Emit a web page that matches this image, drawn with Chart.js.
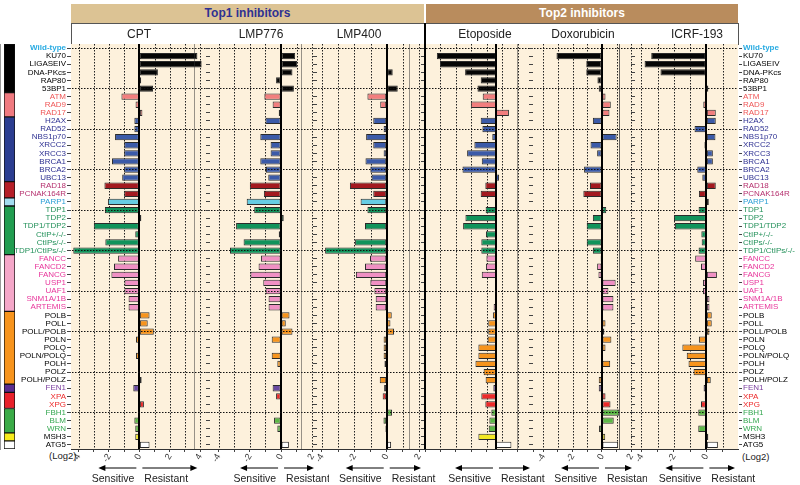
<!doctype html>
<html>

<head>
    <title>Top1 / Top2 inhibitors</title>
    <script src="https://cdn.jsdelivr.net/npm/chart.js@4.4.1/dist/chart.umd.min.js"></script>
    <style>
        * {
            font-family: "Liberation Sans", Arial, Helvetica, sans-serif;
        }

        body {
            margin: 0;
            width: 800px;
            height: 485px;
            position: relative;
            overflow: hidden;
            background: #fff;
        }

        canvas, .hdr, .namebox, .drug, .note, .sep {
            position: absolute;
        }

        .hdr {
            font-size: 12px;
            font-weight: bold;
            text-align: center;
            line-height: 19px;
        }

        .namebox {
            box-sizing: border-box;
            border: 1px solid #555;
            background: #fff;
        }

        .drug {
            top: 27px;
            font-size: 12px;
            color: #222;
            transform: translateX(-50%);
            white-space: nowrap;
        }

        .note {
            font-size: 9.5px;
            color: #222;
        }

        .sep {
            background: #000;
        }
    </style>
</head>

<body>
    <div class="hdr" style="left:71px;top:4px;width:353px;height:19px;background:#dcc394;color:#2e3192">Top1 inhibitors</div>
    <div class="hdr" style="left:426px;top:4px;width:312px;height:19px;background:#b98c5d;color:#fff">Top2 inhibitors</div>
    <div class="namebox" style="left:71px;top:23px;width:354px;height:22px"></div>
    <div class="namebox" style="left:425px;top:23px;width:314px;height:22px"></div>
    <div class="note" style="left:49px;top:450px">(Log2)</div>
    <div class="note" style="left:742px;top:451px">(Log2)</div>

    <script>
        // row labels, top to bottom
        var genes = ['Wild-type', 'KU70', 'LIGASEIV', 'DNA-PKcs', 'RAP80', '53BP1',
            'ATM', 'RAD9', 'RAD17',
            'H2AX', 'RAD52', 'NBS1p70', 'XRCC2', 'XRCC3', 'BRCA1', 'BRCA2', 'UBC13',
            'RAD18', 'PCNAK164R', 'PARP1',
            'TDP1', 'TDP2', 'TDP1/TDP2', 'CtIP+/-/-', 'CtIPs/-/-', 'TDP1/CtIPs/-/-',
            'FANCC', 'FANCD2', 'FANCG', 'USP1', 'UAF1', 'SNM1A/1B', 'ARTEMIS',
            'POLB', 'POLL', 'POLL/POLB', 'POLN', 'POLQ', 'POLN/POLQ', 'POLH', 'POLZ', 'POLH/POLZ',
            'FEN1', 'XPA', 'XPG', 'FBH1', 'BLM', 'WRN', 'MSH3', 'ATG5'];
        // number of rows in each pathway group (side bar)
        var groupSizes = [6, 3, 8, 2, 1, 6, 7, 9, 1, 2, 3, 1, 1];

        var drugs = ['CPT', 'LMP776', 'LMP400', 'Etoposide', 'Doxorubicin', 'ICRF-193'];

        // log2 ratios, one value per gene
        var cpt = [0, 3.82, 4.1, 1.22, 0.12, 0.9, -1.18, -0.25, 0.2, -0.33, -0.33, -1.6, -1.0, -1.0, -1.8, -1.0, -1.13,
            -2.3, -1.0, -2.07, -2.27, 0.13, -3.0, -0.27, -2.24, -4.35, -1.4, -1.67, -1.84, -0.98, -0.98, -0.71, -0.71,
            0.67, 0.55, 0.95, -0.22, 0, -0.22, 0, 0, 0.15, -0.4, 0, 0.3, 0, -0.33, -0.27, -0.27, 0.67];
        var lmp776 = [0, 0.9, 1.03, 0.73, -0.32, 0.82, -1.07, -0.54, -0.15, -1.0, 0, -1.33, -0.67, -0.67, -1.33, -0.97, -0.82,
            -2.0, -1.1, -2.2, -1.72, 0.17, -2.88, -0.15, -2.4, -3.27, -1.29, -1.44, -1.96, -1.14, -0.99, -0.8, -0.8,
            0.54, 0.3, 0.73, -0.6, 0, -0.6, -0.24, 0, 0, -0.54, -0.32, 0, 0, -0.45, -0.24, -0.05, 0.5];
        var lmp400 = [0, 0, 0, 0.37, 0, 0.68, -1.19, -0.4, 0, -0.83, -0.19, -1.27, -0.83, -0.19, -1.31, -1.01, -0.93,
            -2.27, -0.83, -1.61, -1.19, 0, -1.34, 0, -1.95, -3.8, -1.03, -1.34, -1.9, -1.01, -0.76, -0.68, -0.68,
            0.31, 0.23, 0.45, -0.19, -0.19, -0.19, -0.14, 0, -0.43, -0.16, -0.25, 0, 0.33, -0.2, -0.08, 0, 0.27];
        var etoposide = [0, -3.83, -3.63, -2.0, -0.99, -1.2, -0.86, -1.63, 0.84, -0.99, -0.88, -0.24, -1.4, -1.87, -0.92, -2.17, 0.2,
            -0.69, -0.99, 0, -0.67, -1.98, -2.13, -0.65, -0.95, -0.95, -0.62, -0.65, -0.92, 0, 0, 0, -0.15,
            -0.2, -0.5, -0.5, -0.54, -1.14, -1.14, -1.33, -0.8, -0.67, -0.17, -0.95, -0.69, -0.3, -0.43, -0.47, -1.14, 1.0];
        var doxorubicin = [0, -3.1, -1.07, -1.07, -0.31, -0.22, 0.24, 0.6, 0.51, -0.62, 0, 1.0, -0.78, -0.33, 0, -1.22, 0,
            -0.82, -1.27, 0.05, 0.29, -0.62, -1.04, 0, -1.04, -0.62, -0.09, -0.33, -0.24, 0.93, 0.44, 0.78, 0.78,
            0.03, 0.24, 0.16, 0.64, 0.24, 0, 0.56, 0, -0.22, -0.22, 0.24, 0.58, 1.18, 0.8, -0.2, 0.22, 1.1];
        var icrf193 = [0, -3.4, -3.81, -2.83, 0, 0.12, 0, -0.19, 0.58, 0.58, -0.73, 0.56, -0.12, 0.4, 0.4, -0.56, -0.25,
            0.58, -0.46, 0.15, -0.48, -2.0, -1.94, -0.31, -0.29, -0.48, -0.69, -0.33, 0.65, -0.21, -0.21, 0.19, 0.19,
            0.33, 0.33, 0.19, -0.46, -1.48, -1.21, -1.1, -0.79, 0.27, -0.17, -0.1, -0.33, -0.5, 0, -0.5, 0.12, 0.71];
        var series = [cpt, lmp776, lmp400, etoposide, doxorubicin, icrf193];

        // styles
        var sideColors = ['#000000', '#f07a80', '#2b3d90', '#b51f29', '#a3dcf0', '#219d50', '#f5a7c9',
            '#f7941d', '#5a2d8f', '#e8212b', '#3aab47', '#f6eb1b', '#ffffff'];
        var barColors = ['#050505', '#f27e7e', '#3b5aa8', '#a3191f', '#66cde3', '#10935b', '#f090c4',
            '#f7941d', '#6a4aa2', '#ec2a2a', '#5cb846', '#f3e823', '#ffffff'];
        var labelColors = ['#000', '#ef5656', '#2e3192', '#b5306e', '#2a9fd6', '#23915a', '#e8359b',
            '#000', '#7a3d9e', '#ed2a2a', '#36a852', '#000', '#000'];
        var panelBox = [
            {left: 71, right: 210, min: -4.5, max: 4.65, nameX: 139},
            {left: 210, right: 317, min: -4.55, max: 2.3, nameX: 261},
            {left: 317, right: 424, min: -4.3, max: 2.3, nameX: 359},
            {left: 425, right: 533, min: -4.6, max: 2.4, nameX: 485},
            {left: 533, right: 635, min: -4.7, max: 2.25, nameX: 583},
            {left: 635, right: 738, min: -4.4, max: 1.95, nameX: 697},
        ];
        var TOP = 44, BOTTOM = 449, PAD = 12, AXIS_H = 36;

        var geneGroup = [];
        groupSizes.forEach(function(n, g) {
            for (var k = 0; k < n; k++) geneGroup.push(g);
        });

        function labelColor(i) {
            return i === 0 ? '#29abe2' : labelColors[geneGroup[i]];
        }

        function labelFont(c) {
            return {size: 8, weight: c.index === 0 ? 'bold' : 'normal'};
        }

        function arrow(ctx, x1, x2, y) {
            var d = x2 > x1 ? 1 : -1;
            ctx.beginPath();
            ctx.moveTo(x1, y);
            ctx.lineTo(x2 - d * 5, y);
            ctx.stroke();
            ctx.beginPath();
            ctx.moveTo(x2, y);
            ctx.lineTo(x2 - d * 7, y - 3);
            ctx.lineTo(x2 - d * 7, y + 3);
            ctx.closePath();
            ctx.fill();
        }

        var panelDeco = {
            id: 'panelDeco',
            beforeDraw: function(chart) {
                var a = chart.chartArea, ctx = chart.ctx;
                ctx.save();
                ctx.fillStyle = '#fdf1dc';
                ctx.fillRect(a.left, a.top, a.right - a.left, a.bottom - a.top);
                ctx.restore();
            },
            beforeDatasetsDraw: function(chart) {
                // dotted vertical grid at every x tick
                var a = chart.chartArea, ctx = chart.ctx, sx = chart.scales.x;
                ctx.save();
                ctx.strokeStyle = '#222';
                ctx.lineWidth = 1;
                ctx.setLineDash([1.5, 1.5]);
                sx.ticks.forEach(function(t) {
                    if (t.value === 0) return;
                    var x = Math.round(sx.getPixelForValue(t.value)) + 0.5;
                    ctx.beginPath();
                    ctx.moveTo(x, a.top);
                    ctx.lineTo(x, a.bottom);
                    ctx.stroke();
                });
                ctx.restore();
            },
            afterDatasetsDraw: function(chart) {
                var a = chart.chartArea, ctx = chart.ctx;
                var x0 = Math.round(chart.scales.x.getPixelForValue(0));
                ctx.save();
                ctx.strokeStyle = '#000';
                ctx.lineWidth = 2;
                ctx.beginPath();
                ctx.moveTo(x0, a.top);
                ctx.lineTo(x0, a.bottom);
                ctx.stroke();
                ctx.restore();
            },
            afterDraw: function(chart) {
                var a = chart.chartArea, ctx = chart.ctx;
                var x0 = chart.scales.x.getPixelForValue(0);
                var y = a.bottom + 19;
                ctx.save();
                ctx.strokeStyle = '#000';
                ctx.fillStyle = '#000';
                ctx.lineWidth = 1;
                arrow(ctx, x0 - 3, x0 - 41, y);
                arrow(ctx, x0 + 3, Math.min(x0 + 58, a.right - 3), y);
                ctx.fillStyle = '#222';
                ctx.font = '10.5px "Liberation Sans", Arial';
                ctx.textBaseline = 'alphabetic';
                ctx.textAlign = 'right';
                ctx.fillText('Sensitive', x0 - 5, a.bottom + 33);
                ctx.textAlign = 'left';
                ctx.fillText('Resistant', x0 + 5, a.bottom + 33);
                ctx.restore();
            }
        };

        function makeCanvas(left, top, w, h) {
            var cv = document.createElement('canvas');
            cv.width = w;
            cv.height = h;
            cv.style.left = left + 'px';
            cv.style.top = top + 'px';
            cv.style.width = w + 'px';
            cv.style.height = h + 'px';
            document.body.appendChild(cv);
            return cv.getContext('2d');
        }

        // pathway colour bar on the far left
        var sideCtx = makeCanvas(4, TOP, 11, BOTTOM - TOP);
        new Chart(sideCtx, {
            type: 'bar',
            data: {
                labels: [''],
                datasets: groupSizes.map(function(n, g) {
                    return {
                        data: [n],
                        backgroundColor: sideColors[g],
                        borderColor: '#111',
                        borderWidth: 1,
                        borderSkipped: false,
                        barPercentage: 1,
                        categoryPercentage: 1,
                    };
                })
            },
            options: {
                responsive: false,
                animation: false,
                layout: {padding: 0},
                plugins: {legend: {display: false}, tooltip: {enabled: false}},
                scales: {
                    x: {display: false, stacked: true},
                    y: {display: false, stacked: true, min: 0, max: genes.length, reverse: true}
                }
            }
        });

        function drawPanel(i) {
            var b = panelBox[i];
            var first = i === 0, last = i === drugs.length - 1;
            // label axes run to the page edge so their labels are not clipped
            var padL = first ? 0 : PAD, padR = last ? 0 : PAD;
            var leftW = first ? b.left : 4;
            var rightW = last ? 800 - b.right : 0;
            var x0 = b.left - padL - leftW;
            var w = (b.right - b.left) + padL + padR + leftW + rightW;
            var ctx = makeCanvas(x0, TOP - PAD, w, BOTTOM - TOP + PAD + AXIS_H);

            var yAxis = function(pos, showLabels, width, onArea) {
                return {
                    type: 'category',
                    position: pos,
                    offset: true,
                    grid: {
                        offset: false,
                        drawOnChartArea: onArea,
                        color: function(c) { return c.index % 5 === 0 ? '#111' : 'rgba(0,0,0,0)'; },
                        lineWidth: 1,
                        tickColor: '#444',
                        tickLength: 4,
                        z: 1,
                    },
                    border: {display: true, color: '#333', width: 1, dash: [1.5, 1.5]},
                    ticks: {
                        display: showLabels,
                        autoSkip: false,
                        padding: 1,
                        font: labelFont,
                        color: function(c) { return labelColor(c.index); },
                    },
                    afterFit: function(s) { s.width = width; }
                };
            };

            var scales = {
                x: {
                    type: 'linear',
                    min: b.min,
                    max: b.max,
                    grid: {drawOnChartArea: false, color: '#444', tickLength: 3, tickColor: '#444'},
                    border: {display: true, color: '#333', width: 1},
                    ticks: {
                        stepSize: 1,
                        includeBounds: false,
                        autoSkip: false,
                        minRotation: 60,
                        maxRotation: 60,
                        padding: 0,
                        font: {size: 9},
                        color: '#333',
                        callback: function(v) { return v % 2 === 0 ? String(v) : ''; }
                    },
                    afterFit: function(s) { s.height = AXIS_H; }
                },
                y: yAxis('left', first, leftW, true)
            };
            if (last) scales.y2 = yAxis('right', true, rightW, false);

            new Chart(ctx, {
                type: 'bar',
                data: {
                    labels: genes,
                    datasets: [{
                        data: series[i],
                        backgroundColor: genes.map(function(g, k) { return barColors[geneGroup[k]]; }),
                        borderColor: '#2b2b2b',
                        borderWidth: 1,
                        borderSkipped: false,
                        barPercentage: 0.78,
                        categoryPercentage: 1,
                    }]
                },
                options: {
                    indexAxis: 'y',
                    responsive: false,
                    animation: false,
                    layout: {padding: {left: padL, right: padR, top: PAD, bottom: 0}},
                    plugins: {legend: {display: false}, tooltip: {enabled: false}},
                    scales: scales
                },
                plugins: [panelDeco]
            });

            var name = document.createElement('div');
            name.className = 'drug';
            name.style.left = b.nameX + 'px';
            name.innerText = drugs[i];
            document.body.appendChild(name);
        }

        drugs.forEach(function(d, i) { drawPanel(i); });

        // heavy divider between the Top1 and Top2 groups
        var sep = document.createElement('div');
        sep.className = 'sep';
        sep.style.left = '424px';
        sep.style.top = '23px';
        sep.style.width = '2px';
        sep.style.height = (BOTTOM - 23) + 'px';
        document.body.appendChild(sep);
    </script>
</body>

</html>
